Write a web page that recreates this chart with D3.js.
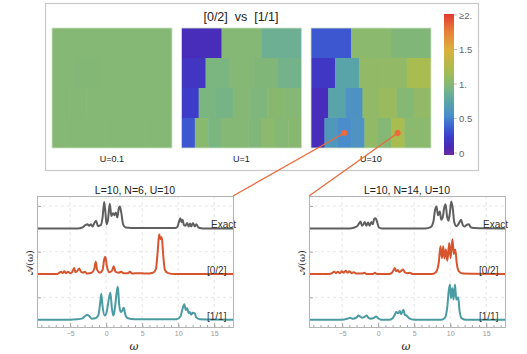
<!DOCTYPE html>
<html>
<head>
<meta charset="utf-8">
<script src="https://cdn.jsdelivr.net/npm/d3@7"></script>
<style>
  body { margin: 0; background: #fff; }
  svg { font-family: "Liberation Sans", Arial, sans-serif; }
</style>
</head>
<body>
<div id="chart"></div>
<script>
var W = 527, H = 354;

// ---- heatmap data: row i has 2i+3 cells, value = ratio [0/2] vs [1/1]
var panels = ["U=0.1", "U=1", "U=10"];
var cellsU01 = [
  [1.0, 1.0, 1.0],
  [1.0, 0.99, 1.0, 1.0, 1.0],
  [1.0, 1.0, 1.0, 1.0, 1.0, 1.0, 1.0],
  [1.0, 1.0, 1.0, 1.0, 1.0, 1.0, 1.0, 1.0, 1.0]
];
var cellsU1 = [
  [0.14, 1.0, 0.87],
  [0.2, 0.95, 1.0, 0.98, 0.91],
  [0.25, 0.95, 0.93, 1.0, 0.97, 1.02, 1.0],
  [0.36, 1.03, 0.95, 1.0, 1.0, 0.98, 1.04, 1.0, 1.02]
];
var cellsU10 = [
  [0.36, 1.04, 0.98],
  [0.22, 0.75, 1.08, 1.08, 1.2],
  [0.14, 0.75, 0.6, 1.08, 1.12, 1.0, 1.08],
  [0.14, 0.64, 0.56, 0.61, 1.08, 1.0, 1.2, 1.04, 1.04]
];
var cellsByPanel = [cellsU01, cellsU1, cellsU10];
var picked = [[3, 2], [3, 6]];   // U=10 cells shown below (row, col)

var barTicks = [0, 0.5, 1, 1.5, 2];
var barLabels = ["0", "0.5", "1.", "1.5", "\u22652."];

// ---- spectral functions, [omega, A(omega)]
var exactN6 = [[-9.6,0.01],[-4.0,0.01],[-3.3,0.03],[-2.9,0.08],[-2.6,0.1],[-2.35,0.07],[-2.1,0.1],[-1.9,0.05],[-1.6,0.14],[-1.4,0.18],[-1.15,0.06],[-0.75,0.08],[-0.5,0.25],[-0.28,0.59],[-0.1,0.35],[0.05,0.1],[0.25,0.2],[0.5,0.55],[0.72,0.28],[0.95,0.34],[1.15,0.3],[1.34,0.36],[1.55,0.25],[1.75,0.45],[1.9,0.49],[2.1,0.35],[2.35,0.1],[2.7,0.03],[3.5,0.02],[9.6,0.02],[9.9,0.05],[10.15,0.18],[10.3,0.23],[10.45,0.15],[10.6,0.2],[10.8,0.08],[11.0,0.07],[11.25,0.13],[11.45,0.05],[11.65,0.12],[11.8,0.05],[12.05,0.13],[12.3,0.05],[12.5,0.1],[12.8,0.03],[13.5,0.01],[17.6,0.01]];
var pade02N6 = [[-9.6,0.01],[-6.8,0.01],[-6.5,0.04],[-6.25,0.06],[-6.05,0.03],[-5.8,0.07],[-5.6,0.03],[-5.3,0.06],[-5.0,0.03],[-4.7,0.06],[-4.45,0.14],[-4.25,0.05],[-3.95,0.09],[-3.75,0.13],[-3.5,0.06],[-3.2,0.04],[-3.0,0.06],[-2.6,0.02],[-2.0,0.04],[-1.65,0.12],[-1.45,0.28],[-1.25,0.1],[-0.9,0.04],[-0.5,0.1],[-0.25,0.35],[-0.12,0.39],[0.1,0.18],[0.4,0.05],[0.8,0.08],[1.05,0.18],[1.3,0.06],[1.7,0.04],[2.1,0.06],[2.4,0.03],[3.0,0.03],[3.3,0.06],[3.6,0.02],[4.5,0.03],[5.5,0.02],[6.5,0.04],[6.9,0.12],[7.15,0.5],[7.35,0.88],[7.55,0.77],[7.72,0.82],[7.9,0.45],[8.15,0.1],[8.6,0.03],[9.5,0.01],[17.6,0.01]];
var pade11N6 = [[-9.6,0.01],[-5,0.01],[-4,0.02],[-3.3,0.04],[-2.9,0.09],[-2.6,0.12],[-2.3,0.08],[-2.0,0.03],[-1.5,0.04],[-1.1,0.1],[-0.85,0.35],[-0.68,0.58],[-0.5,0.3],[-0.2,0.1],[0.1,0.2],[0.35,0.45],[0.58,0.6],[0.8,0.25],[1.0,0.1],[1.2,0.25],[1.45,0.6],[1.62,0.73],[1.8,0.35],[2.0,0.18],[2.2,0.2],[2.45,0.27],[2.65,0.12],[3.0,0.04],[4,0.02],[9.8,0.02],[10.3,0.08],[10.6,0.25],[10.85,0.35],[11.05,0.22],[11.25,0.26],[11.45,0.15],[11.6,0.18],[11.8,0.12],[12.0,0.16],[12.3,0.15],[12.5,0.06],[13,0.02],[17.6,0.01]];

var exactN14 = [[-9.6,0.01],[-4.0,0.01],[-3.3,0.03],[-2.9,0.06],[-2.65,0.12],[-2.45,0.16],[-2.25,0.07],[-2.05,0.1],[-1.85,0.15],[-1.65,0.07],[-1.4,0.14],[-1.2,0.07],[-0.95,0.15],[-0.75,0.1],[-0.55,0.22],[-0.35,0.23],[-0.15,0.15],[0.1,0.03],[0.5,0.01],[6.5,0.01],[7.3,0.04],[7.65,0.15],[7.9,0.42],[8.1,0.49],[8.3,0.3],[8.55,0.38],[8.75,0.2],[8.95,0.25],[9.15,0.45],[9.35,0.54],[9.55,0.28],[9.75,0.18],[9.95,0.35],[10.15,0.6],[10.35,0.45],[10.55,0.15],[10.85,0.06],[11.2,0.12],[11.5,0.2],[11.75,0.08],[12.0,0.05],[12.3,0.09],[12.6,0.1],[12.8,0.04],[13.3,0.02],[17.6,0.01]];
var pade02N14 = [[-9.6,0.01],[-6.8,0.01],[-6.4,0.03],[-6.1,0.06],[-5.85,0.03],[-5.6,0.06],[-5.3,0.03],[-5.05,0.07],[-4.8,0.04],[-4.5,0.08],[-4.25,0.04],[-4.0,0.07],[-3.7,0.03],[-3.4,0.05],[-3.0,0.02],[-2.2,0.02],[-1.9,0.04],[-1.6,0.01],[-0.7,0.01],[-0.45,0.04],[-0.2,0.01],[1.5,0.01],[1.9,0.04],[2.15,0.1],[2.3,0.14],[2.5,0.07],[2.75,0.1],[2.95,0.05],[3.2,0.08],[3.45,0.11],[3.7,0.05],[4.0,0.03],[4.4,0.04],[4.8,0.01],[7.5,0.01],[8.0,0.05],[8.4,0.25],[8.65,0.62],[8.85,0.36],[9.03,0.62],[9.2,0.35],[9.4,0.55],[9.6,0.3],[9.86,0.69],[10.05,0.36],[10.3,0.77],[10.5,0.45],[10.7,0.55],[10.9,0.25],[11.2,0.07],[11.8,0.02],[17.6,0.01]];
var pade11N14 = [[-9.6,0.01],[-5,0.01],[-4.3,0.03],[-3.9,0.05],[-3.5,0.03],[-3.0,0.06],[-2.75,0.1],[-2.5,0.08],[-2.2,0.05],[-1.9,0.07],[-1.6,0.1],[-1.35,0.05],[-1.0,0.03],[-0.6,0.05],[-0.3,0.08],[0.0,0.04],[0.4,0.01],[1.6,0.01],[2.0,0.04],[2.3,0.12],[2.5,0.18],[2.75,0.15],[3.0,0.2],[3.2,0.13],[3.5,0.23],[3.7,0.12],[3.95,0.1],[4.3,0.04],[5,0.01],[8.8,0.01],[9.3,0.06],[9.6,0.3],[9.8,0.65],[9.96,0.78],[10.1,0.48],[10.3,0.7],[10.45,0.45],[10.65,0.78],[10.85,0.45],[11.1,0.5],[11.3,0.2],[11.6,0.04],[12.2,0.01],[17.6,0.01]];

var seriesNames = ["Exact", "[0/2]", "[1/1]"];
var seriesOffset = [2, 1, 0];
var seriesColor = ["#5f5f5f", "#d6552f", "#4b9ba2"];
var spectraTitles = ["L=10, N=6, U=10", "L=10, N=14, U=10"];
var spectraN6 = [exactN6, pade02N6, pade11N6];
var spectraN14 = [exactN14, pade02N14, pade11N14];
var omegaTicks = [-5, 0, 5, 10, 15];
var gridA = [0.5, 1.5, 2.5];

var svg = d3.select("#chart").append("svg")
    .attr("width", W)
    .attr("height", H);

// colour function, rainbow-like
var color = d3.scaleLinear()
    .domain([0, 0.12, 0.25, 0.38, 0.55, 0.75, 0.9, 1.0, 1.2, 1.5, 1.75, 2.0])
    .range(["#6b2aa0", "#4a2ab8", "#3d3cc8", "#3c5cd0", "#4a8ccc", "#58a4a8",
            "#72b28c", "#84b874", "#a8bc50", "#dbb03c", "#e8803a", "#e03a30"])
    .clamp(true);

// top frame
svg.append("rect")
    .attr("x", 45.5).attr("y", 3.5)
    .attr("width", 433).attr("height", 167)
    .attr("fill", "none").attr("stroke", "#c8c8c8").attr("stroke-width", 1.2);

svg.append("text")
    .attr("x", 241).attr("y", 21)
    .attr("text-anchor", "middle")
    .style("white-space", "pre")
    .style("font-size", "12.5px").attr("fill", "#222")
    .text("[0/2]  vs  [1/1]");

var px = d3.scaleBand().domain(panels).range([52, 431]).paddingInner(0.0734);
var rowY = d3.scaleBand().domain(d3.range(4)).range([28, 148]);

panels.forEach(function(name, p) {
  var g = svg.append("g");
  var x0 = px(name), bw = px.bandwidth();
  cellsByPanel[p].forEach(function(row, i) {
    var cx = d3.scaleBand().domain(d3.range(row.length)).range([x0, x0 + bw]);
    g.selectAll(null).data(row).enter().append("rect")
        .attr("x", function(d, j) { return cx(j); })
        .attr("y", rowY(i))
        .attr("width", function(d, j) { return cx.bandwidth() + (j < row.length - 1 ? 0.6 : 0); })
        .attr("height", rowY.bandwidth() + (i < 3 ? 0.6 : 0))
        .attr("fill", function(d) { return color(d); });
    g.selectAll(null).data(row.slice(1)).enter().append("line")
        .attr("x1", function(d, j) { return cx(j + 1); })
        .attr("x2", function(d, j) { return cx(j + 1); })
        .attr("y1", rowY(i)).attr("y2", rowY(i) + rowY.bandwidth())
        .attr("stroke", "#fff").attr("stroke-opacity", 0.05).attr("stroke-width", 0.6);
  });
  g.append("rect")
      .attr("x", x0).attr("y", 28).attr("width", bw).attr("height", 120)
      .attr("fill", "none").attr("stroke", "#cfe2c8").attr("stroke-width", 0.8);
  svg.append("text")
      .attr("x", x0 + bw / 2).attr("y", 161.5)
      .attr("text-anchor", "middle")
      .style("font-size", "9px").attr("fill", "#222")
      .text(name);
});

// colour bar
var cbY = d3.scaleLinear().domain([0, 2]).range([153, 15]);
var grad = svg.append("defs").append("linearGradient")
    .attr("id", "cb").attr("x1", 0).attr("x2", 0).attr("y1", 1).attr("y2", 0);
color.domain().forEach(function(v) {
  grad.append("stop").attr("offset", v / 2).attr("stop-color", color(v));
});
svg.append("rect")
    .attr("x", 444).attr("y", 14).attr("width", 10).attr("height", 141)
    .attr("fill", "url(#cb)");
svg.selectAll(null).data(barTicks).enter().append("line")
    .attr("x1", 454).attr("x2", 457)
    .attr("y1", function(d) { return cbY(d); })
    .attr("y2", function(d) { return cbY(d); })
    .attr("stroke", "#999").attr("stroke-width", 0.6);
svg.selectAll(null).data(barTicks).enter().append("text")
    .attr("x", 459)
    .attr("y", function(d) { return cbY(d) + 3.5; })
    .style("font-size", "9.5px").attr("fill", "#666")
    .text(function(d, i) { return barLabels[i]; });

// ---- spectra panels
var boxes = [{x: 37, y: 196, w: 196, h: 131}, {x: 309, y: 196, w: 196, h: 131}];
var spectra = [spectraN6, spectraN14];

boxes.forEach(function(b, k) {
  var xs = d3.scaleLinear().domain([-9.6, 17.6]).range([b.x, b.x + b.w]);
  var ys = d3.scaleLinear().domain([-0.15, 2.72]).range([b.y + b.h, b.y]);
  var g = svg.append("g");

  g.selectAll(null).data(omegaTicks).enter().append("line")
      .attr("x1", function(d) { return xs(d); }).attr("x2", function(d) { return xs(d); })
      .attr("y1", b.y).attr("y2", b.y + b.h)
      .attr("stroke", "#dedede").attr("stroke-dasharray", "3,3").attr("stroke-width", 0.7);
  g.selectAll(null).data(gridA).enter().append("line")
      .attr("x1", b.x).attr("x2", b.x + b.w)
      .attr("y1", function(d) { return ys(d); }).attr("y2", function(d) { return ys(d); })
      .attr("stroke", "#dedede").attr("stroke-dasharray", "3,3").attr("stroke-width", 0.7);

  var line = d3.line().curve(d3.curveMonotoneX);
  spectra[k].forEach(function(s, i) {
    g.append("path")
        .attr("d", line.x(function(d) { return xs(d[0]); })
                       .y(function(d) { return ys(d[1] + seriesOffset[i]); })(s))
        .attr("fill", "none")
        .attr("stroke", seriesColor[i])
        .attr("stroke-width", 2)
        .attr("stroke-linejoin", "round");
    g.append("text")
        .attr("x", b.x + (i === 0 ? 174 : 170))
        .attr("y", ys(seriesOffset[i]) - 0.5)
        .style("font-size", "10px").attr("fill", "#333")
        .text(seriesNames[i]);
  });

  g.append("g")
      .attr("transform", "translate(0," + (b.y + b.h) + ")")
      .call(d3.axisBottom(xs).tickValues(d3.range(-9, 18)).tickSize(-2).tickFormat(""))
      .call(function(a) { a.select(".domain").remove(); a.selectAll("line").attr("stroke", "#aaa"); });
  g.append("g")
      .attr("transform", "translate(0," + (b.y + b.h) + ")")
      .call(d3.axisBottom(xs).tickValues(omegaTicks).tickSize(-4).tickPadding(4))
      .call(function(a) {
        a.select(".domain").remove();
        a.selectAll("line").attr("stroke", "#aaa");
        a.selectAll("text").attr("fill", "#999").style("font-size", "7px")
            .style("font-family", "Liberation Sans, Arial, sans-serif");
      });
  g.append("g")
      .attr("transform", "translate(" + b.x + ",0)")
      .call(d3.axisLeft(ys).tickValues(gridA).tickSize(-4).tickFormat(""))
      .call(function(a) { a.select(".domain").remove(); a.selectAll("line").attr("stroke", "#aaa"); });

  g.append("rect")
      .attr("x", b.x + 0.5).attr("y", b.y + 0.5).attr("width", b.w).attr("height", b.h)
      .attr("fill", "none").attr("stroke", "#b4b4b4");

  g.append("text")
      .attr("x", b.x + b.w / 2).attr("y", b.y - 2.5)
      .attr("text-anchor", "middle")
      .style("font-size", "10.5px").attr("fill", "#222")
      .text(spectraTitles[k]);
  g.append("text")
      .attr("x", b.x + b.w / 2 - 1).attr("y", 350)
      .attr("text-anchor", "middle")
      .style("font-size", "11px").style("font-style", "italic").attr("fill", "#222")
      .style("font-family", "DejaVu Serif, serif")
      .text("\u03c9");
  g.append("text")
      .attr("transform", "translate(" + (b.x - 4) + "," + (b.y + b.h / 2 + 1) + ") rotate(-90)")
      .attr("text-anchor", "middle")
      .style("font-size", "10px").attr("fill", "#222")
      .style("font-family", "DejaVu Serif, serif")
      .text("\ud835\udc9c(\u03c9)");
});

// connectors from the picked U=10 cells to the spectra panels
var rowLast = cellsU10[3];
var cx10 = d3.scaleBand().domain(d3.range(rowLast.length)).range([px("U=10"), px("U=10") + px.bandwidth()]);
var targets = [[boxes[0].x + boxes[0].w, boxes[0].y], [boxes[1].x, boxes[1].y]];
picked.forEach(function(pc, i) {
  var cxp = cx10(pc[1]) + cx10.bandwidth() / 2, cyp = rowY(pc[0]) + rowY.bandwidth() / 2;
  svg.append("line")
      .attr("x1", cxp).attr("y1", cyp)
      .attr("x2", targets[i][0]).attr("y2", targets[i][1])
      .attr("stroke", "#ec6a3c").attr("stroke-width", 1.3);
  svg.append("circle")
      .attr("cx", cxp).attr("cy", cyp).attr("r", 3)
      .attr("fill", "#ec6a3c");
});
</script>
</body>
</html>
